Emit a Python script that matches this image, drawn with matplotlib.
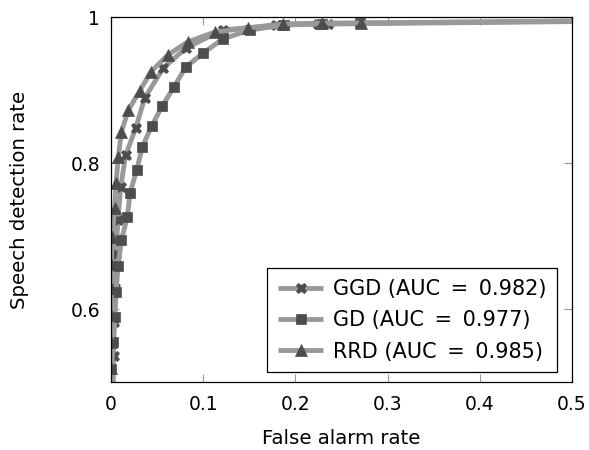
import matplotlib
matplotlib.use("Agg")
import matplotlib.pyplot as plt

# False alarm rate (x) and speech detection rate (y) for each detector
ggd_far = [0.0, 0.0027, 0.0033, 0.0043, 0.0051, 0.0076, 0.0105, 0.0159, 0.0268, 0.0365,
           0.0567, 0.0813, 0.1211, 0.1790, 0.2245, 0.2354, 1.0]
ggd_sdr = [0.0, 0.5356, 0.5822, 0.6288, 0.6753, 0.7219, 0.7671, 0.8110, 0.8479, 0.8890,
           0.9301, 0.9575, 0.9822, 0.9890, 0.9904, 0.9904, 1.0]

gd_far = [0.0, 0.0003, 0.0025, 0.0043, 0.0054, 0.0076, 0.0112, 0.0177, 0.0206, 0.0279,
          0.0339, 0.0441, 0.0556, 0.0683, 0.0810, 0.1001, 0.1211, 0.1508, 0.1876,
          0.2289, 0.2701, 1.0]
gd_sdr = [0.0, 0.5178, 0.5548, 0.5890, 0.6233, 0.6589, 0.6945, 0.7260, 0.7589, 0.7904,
          0.8219, 0.8507, 0.8781, 0.9041, 0.9315, 0.9507, 0.9699, 0.9822, 0.9890,
          0.9904, 0.9918, 1.0]

rrd_far = [0.0, 0.0001, 0.0002, 0.0002, 0.0003, 0.0003, 0.0014, 0.0040, 0.0054, 0.0079,
           0.0112, 0.0188, 0.0311, 0.0431, 0.0615, 0.0830, 0.1128, 0.1489, 0.1866,
           0.2289, 0.2711, 1.0]
rrd_sdr = [0.0, 0.5192, 0.5548, 0.5918, 0.6288, 0.6616, 0.6986, 0.7384, 0.7726, 0.8082,
           0.8425, 0.8726, 0.8986, 0.9247, 0.9479, 0.9658, 0.9795, 0.9849, 0.9904,
           0.9918, 0.9918, 1.0]

labels = ["GGD (AUC\u2002=\u20020.982)", "GD (AUC\u2002=\u20020.977)", "RRD (AUC\u2002=\u20020.985)"]
xticks = [0, 0.1, 0.2, 0.3, 0.4, 0.5]
xticklabels = ["0", "0.1", "0.2", "0.3", "0.4", "0.5"]
yticks = [0.6, 0.8, 1.0]
yticklabels = ["0.6", "0.8", "1"]

plt.rcParams['font.family'] = ['DejaVu Sans']

fig = plt.figure(figsize=(5.89, 4.50), dpi=100)
ax = fig.add_axes([0.1885, 0.1511, 0.7826, 0.8111])

line_col = '#999999'
mark_col = '#4d4d4d'
common = dict(color=line_col, lw=3.5, markerfacecolor=mark_col,
              markeredgecolor=mark_col, solid_capstyle='butt', clip_on=True)

ax.plot(ggd_far, ggd_sdr, marker='X', markersize=7.5, markeredgewidth=0.5,
        label=labels[0], **common)
ax.plot(gd_far, gd_sdr, marker='s', markersize=7, markeredgewidth=0.5,
        label=labels[1], **common)
ax.plot(rrd_far, rrd_sdr, marker='^', markersize=8, markeredgewidth=0.5,
        label=labels[2], **common)

ax.set_xlim(0, 0.5)
ax.set_ylim(0.5, 1.0)
ax.set_xticks(xticks)
ax.set_xticklabels(xticklabels)
ax.set_yticks(yticks)
ax.set_yticklabels(yticklabels)
ax.tick_params(direction='in', top=True, right=True, length=6, width=0.8,
               color='#999999', labelsize=13.5)
ax.tick_params(axis='x', pad=9)
ax.tick_params(axis='y', pad=8)
for s in ax.spines.values():
    s.set_linewidth(0.9)
    s.set_color('black')

ax.set_xlabel("False alarm rate", fontsize=14.2, labelpad=11)
ax.set_ylabel("Speech detection rate", fontsize=14.2, labelpad=30)

leg = ax.legend(loc='lower right', fontsize=15, frameon=True, fancybox=False,
                edgecolor='black', framealpha=1, handlelength=2.2,
                borderpad=0.5, labelspacing=0.55, handletextpad=0.45,
                borderaxespad=0.0, bbox_to_anchor=(0.967, 0.027))
leg.get_frame().set_linewidth(0.9)

fig.savefig("out.png", dpi=100)
